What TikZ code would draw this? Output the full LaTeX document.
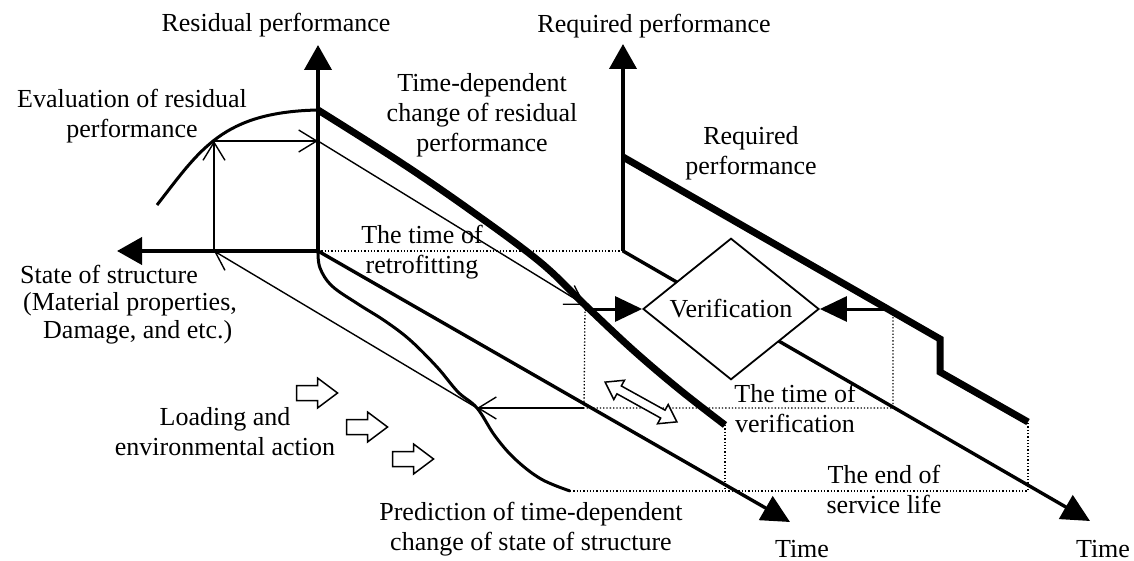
\documentclass[tikz,border=0pt]{standalone}
\usepackage{fontspec}
\setmainfont{Liberation Serif}
\usetikzlibrary{arrows.meta,shapes.geometric}
\begin{document}
\begin{tikzpicture}[x=1pt,y=-1pt,
  lbl/.style={font=\fontsize{26}{30}\selectfont, inner sep=0pt, align=center},
  axisarr/.style={line width=4pt, -{Triangle[length=25pt,width=27pt]}},
  taxis/.style={line width=3.4pt, -{Triangle[length=28pt,width=27pt]}},
  medline/.style={line width=3pt},
  heavy/.style={line width=7pt},
  thinarr/.style={line width=1.4pt, -{Straight Barb[length=18pt,width=22pt]}},
  dotl/.style={line width=1.3pt, dash pattern=on 1.3pt off 2pt},
  bigarr/.style={line width=3pt, -{Triangle[length=27pt,width=25pt]}},
  hollow/.style={line width=1.5pt, fill=white, line join=miter},
  blockarr/.pic={\draw[hollow] (-20.5,-7.5) -- (0.5,-7.5) -- (0.5,-15) -- (20.5,0) -- (0.5,15) -- (0.5,7.5) -- (-20.5,7.5) -- cycle;},
  dblarr/.pic={\draw[hollow] (-41,0) -- (-25,-11) -- (-25,-4.5) -- (25,-4.5) -- (25,-11) -- (41,0) -- (25,11) -- (25,4.5) -- (-25,4.5) -- (-25,11) -- cycle;}
]
\useasboundingbox (0,0) rectangle (1134,561);

% key points
\coordinate (O1) at (318,251);
\coordinate (RtipL) at (318,45);
\coordinate (Stip) at (117,251);
\coordinate (T1) at (790,522);
\coordinate (O2) at (623,251);
\coordinate (RtipR) at (623,44);
\coordinate (T2) at (1090,521);
\coordinate (E0) at (157,205);
\coordinate (E1) at (214,141);
\coordinate (R0) at (318,110);
\coordinate (S0) at (214,251);
\coordinate (H1) at (318,141);
\coordinate (V1) at (585,305);
\coordinate (P1) at (584,408);
\coordinate (Q1) at (477,408);
\coordinate (P2) at (893,408);
\coordinate (V2) at (893,313);
\coordinate (Rend) at (725,425);
\coordinate (Rend0) at (725,491);
\coordinate (Qend) at (570,491);
\coordinate (Req0) at (623,157);
\coordinate (ReqA) at (940,339);
\coordinate (ReqB) at (940,372);
\coordinate (ReqEnd) at (1028,422);
\coordinate (ReqEnd0) at (1028,491);

% dotted guide lines
\draw[dotl] (O1) -- (O2);
\draw[dotl] (V1) -- (P1) -- (P2) -- (V2);
\draw[dotl] (Rend) -- (Rend0);
\draw[dotl] (Qend) -- (ReqEnd0) -- (ReqEnd);

% axes
\draw[axisarr] (O1) -- (RtipL);
\draw[axisarr] (O1) -- (Stip);
\draw[taxis] (O1) -- (T1);
\draw[axisarr] (O2) -- (RtipR);
\draw[taxis] (O2) -- (T2);

% evaluation curve
\draw[medline] (E0) .. controls (200,150) and (222,112) .. (R0);
% prediction curve
\draw[medline] plot[smooth, tension=0.6] coordinates {(O1) (320,268) (332,286) (358,304) (385,321) (410,340) (437,367) (458,392) (Q1) (495,436) (515,459) (541,479) (Qend)};
% residual performance curve
\draw[heavy] plot[smooth, tension=0.6] coordinates {(R0) (400,162) (470,210) (540,262) (V1) (633,350) (680,390) (Rend)};
% required performance
\draw[heavy] (Req0) -- (ReqA) -- (ReqB) -- (ReqEnd);

% thin arrows
\draw[thinarr] (P1) -- (Q1);
\draw[thinarr] (Q1) -- (S0);
\draw[thinarr] (S0) -- (E1);
\draw[thinarr] (E1) -- (H1);
\draw[thinarr] (H1) -- (V1);

% verification
\node[draw, diamond, fill=white, line width=1.8pt, minimum width=176pt, minimum height=76pt, inner sep=0pt, font=\fontsize{26}{30}\selectfont] (ver) at (731,309) {Verification};
\draw[bigarr] (V1 |- ver.west) -- (ver.west);
\draw[bigarr] (V2 |- ver.east) -- (ver.east);

% hollow arrows
\pic at (317,393) {blockarr};
\pic at (367,427) {blockarr};
\pic at (413,459) {blockarr};
\pic[rotate=-29] at (641,402) {dblarr};

% labels (anchor = baseline of the last line)
\node[lbl, anchor=base] (tResid) at (276,32) {Residual performance};
\node[lbl, anchor=base] (tReqTop) at (654,33) {Required performance};
\node[lbl, anchor=base] (tEval) at (132,138) {Evaluation of residual\\performance};
\node[lbl, anchor=base] (tTD) at (482,152) {Time-dependent\\change of residual\\performance};
\node[lbl, anchor=base] (tReq) at (751,175) {Required\\performance};
\node[lbl, anchor=base] (tRetro) at (422,273) {The time of\\retrofitting};
\node[lbl, anchor=base west, align=left, font=\fontsize{26}{27.5}\selectfont] (tState) at (20,338) {State of structure\\\hspace*{3pt}(Material properties,\\\hspace*{23pt}Damage, and etc.)};
\node[lbl, anchor=base] (tVerT) at (795,432) {The time of\\verification};
\node[lbl, anchor=base] (tLoad) at (225,455) {Loading and\\environmental action};
\node[lbl, anchor=base] (tEnd) at (884,513) {The end of\\service life};
\node[lbl, anchor=base] (tPred) at (531,550) {Prediction of time-dependent\\change of state of structure};
\node[lbl, anchor=base] (tTime1) at (802,557) {Time};
\node[lbl, anchor=base] (tTime2) at (1103,557) {Time};
\end{tikzpicture}
\end{document}
